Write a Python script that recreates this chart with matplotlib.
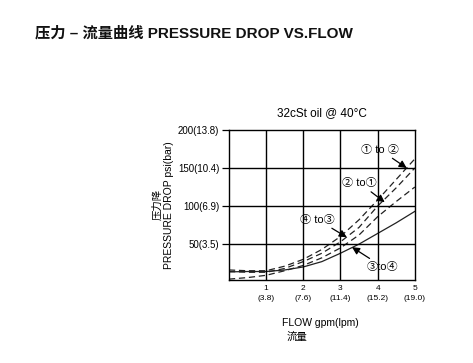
import matplotlib.pyplot as plt

plt.rcParams['font.family'] = ['Liberation Sans', 'Noto Sans CJK SC', 'DejaVu Sans']

# flow in gpm, pressure drop in psi
flow = [0, 0.5, 1, 1.5, 2, 2.5, 3, 3.5, 4, 4.5, 5]
p_1to2 = [16, 15, 15, 21, 30, 43, 60, 82, 108, 135, 162]
p_2to1 = [14, 13, 13, 18, 27, 38, 53, 72, 100, 124, 150]
p_4to3 = [4, 6, 9, 15, 22, 32, 45, 62, 86, 106, 125]
p_3to4 = [13.5, 14, 14, 16, 20, 27, 38, 50, 64, 78, 93]

x_ticks = [1, 2, 3, 4, 5]
x_labels = ['1\n(3.8)', '2\n(7.6)', '3\n(11.4)', '4\n(15.2)', '5\n(19.0)']
y_ticks = [50, 100, 150, 200]
y_labels = ['50(3.5)', '100(6.9)', '150(10.4)', '200(13.8)']

fig = plt.figure(figsize=(4.73, 3.63), dpi=100)
ax = fig.add_axes([0.484, 0.229, 0.393, 0.413])

line_col = '#222222'
dash = (0, (5, 3))
ax.plot(flow, p_1to2, color=line_col, lw=0.9, linestyle=dash)
ax.plot(flow, p_2to1, color=line_col, lw=0.9, linestyle=dash)
ax.plot(flow, p_4to3, color=line_col, lw=0.9, linestyle=dash)
ax.plot(flow, p_3to4, color=line_col, lw=0.9)

ax.set_xlim(0, 5)
ax.set_ylim(3, 200)
ax.set_xticks(x_ticks)
ax.set_xticklabels(x_labels, fontsize=6, linespacing=1.6)
ax.set_yticks(y_ticks)
ax.set_yticklabels(y_labels, fontsize=7)
ax.tick_params(axis='x', length=0, pad=4)
ax.tick_params(axis='y', length=5, width=0.9, pad=2)
for v in [1, 2, 3, 4]:
    ax.axvline(v, color='black', lw=1)
for v in [50, 100, 150]:
    ax.axhline(v, color='black', lw=1)
for s in ax.spines.values():
    s.set_linewidth(1)

ax.set_ylabel('压力降\nPRESSURE DROP psi(bar)', fontsize=7.5, labelpad=3)
ax.set_title('32cSt oil @ 40°C', fontsize=8.5, pad=10)

arrow = dict(arrowstyle='-|>', color='black', lw=0.9, mutation_scale=11, shrinkA=1, shrinkB=0)
ax.annotate('① to ②', xy=(4.78, 150), xytext=(4.06, 174), fontsize=8,
            ha='center', va='center', arrowprops=arrow, annotation_clip=False)
ax.annotate('② to①', xy=(4.19, 105), xytext=(3.52, 130), fontsize=8,
            ha='center', va='center', arrowprops=arrow)
ax.annotate('④ to③', xy=(3.17, 59), xytext=(2.39, 82), fontsize=8,
            ha='center', va='center', arrowprops=arrow)
ax.annotate('③to④', xy=(3.31, 46), xytext=(4.14, 20), fontsize=8,
            ha='center', va='center', arrowprops=arrow)

fig.text(320 / 473, 1 - 323 / 363, 'FLOW gpm(lpm)', fontsize=7.5, ha='center', va='center')
fig.text(297 / 473, 1 - 337 / 363, '流量', fontsize=7.5, ha='center', va='center')
fig.text(35 / 473, 1 - 33 / 363, '压力 – 流量曲线 PRESSURE DROP VS.FLOW', fontsize=11,
         fontweight='bold', ha='left', va='center', color='#111111')

fig.savefig('out.png', dpi=100)
